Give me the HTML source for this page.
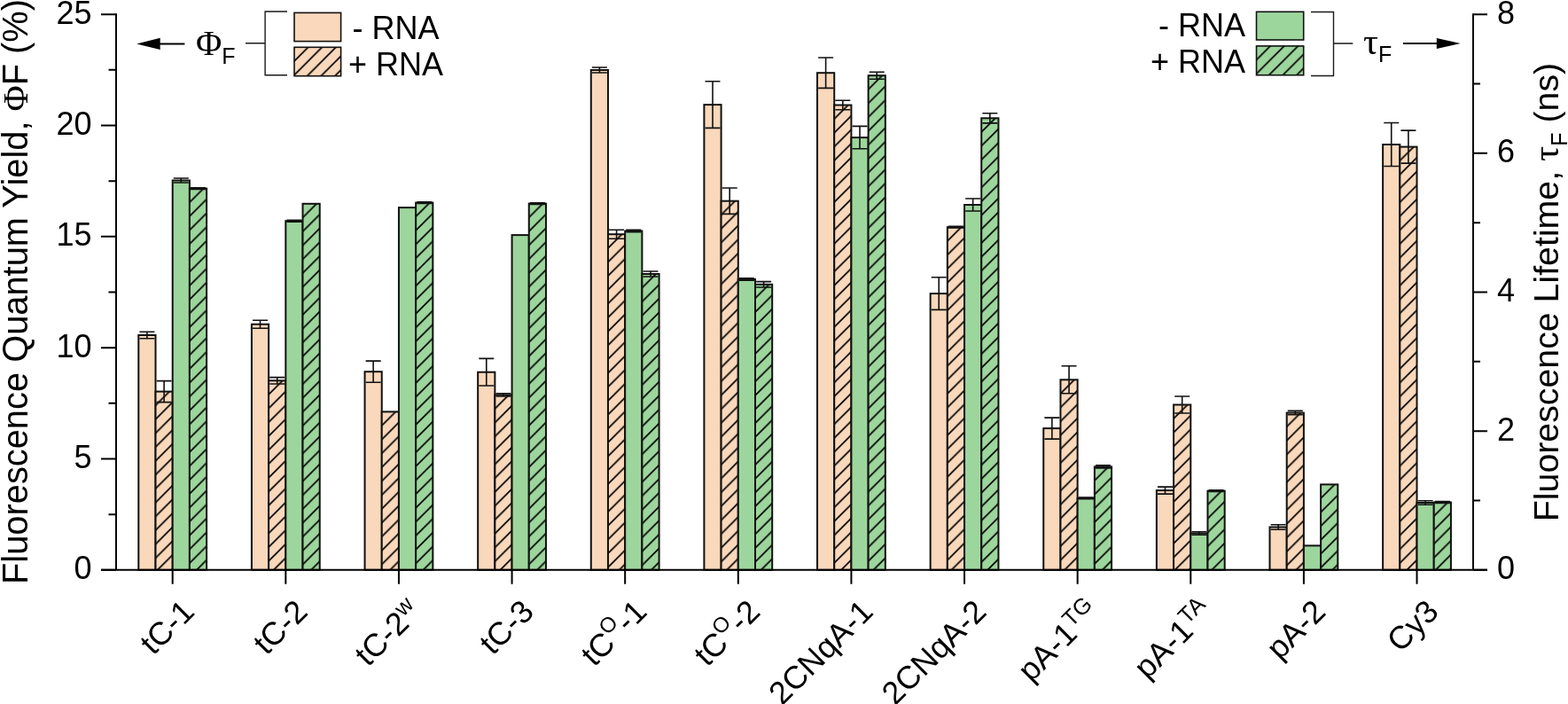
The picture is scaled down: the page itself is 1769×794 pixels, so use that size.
<!DOCTYPE html>
<html><head><meta charset="utf-8"><style>html,body{margin:0;padding:0;background:#fff;width:1769px;height:794px;overflow:hidden}svg{display:block}</style></head>
<body><svg width="1769" height="794" viewBox="0 0 1769 794">
<defs><pattern id="h1" patternUnits="userSpaceOnUse" x="175.50" y="441.60" width="15.65" height="15.65"><rect width="15.65" height="15.65" fill="#F9D8BB"/><path d="M0,15.65 L15.65,0 M-2,2 L2,-2 M13.65,17.65 L17.65,13.65" stroke="#000" stroke-width="1.7"/></pattern><pattern id="h2" patternUnits="userSpaceOnUse" x="213.90" y="212.60" width="15.65" height="15.65"><rect width="15.65" height="15.65" fill="#9DD69C"/><path d="M0,15.65 L15.65,0 M-2,2 L2,-2 M13.65,17.65 L17.65,13.65" stroke="#000" stroke-width="1.7"/></pattern><pattern id="h3" patternUnits="userSpaceOnUse" x="303.12" y="429.30" width="15.65" height="15.65"><rect width="15.65" height="15.65" fill="#F9D8BB"/><path d="M0,15.65 L15.65,0 M-2,2 L2,-2 M13.65,17.65 L17.65,13.65" stroke="#000" stroke-width="1.7"/></pattern><pattern id="h4" patternUnits="userSpaceOnUse" x="341.52" y="229.80" width="15.65" height="15.65"><rect width="15.65" height="15.65" fill="#9DD69C"/><path d="M0,15.65 L15.65,0 M-2,2 L2,-2 M13.65,17.65 L17.65,13.65" stroke="#000" stroke-width="1.7"/></pattern><pattern id="h5" patternUnits="userSpaceOnUse" x="430.74" y="464.40" width="15.65" height="15.65"><rect width="15.65" height="15.65" fill="#F9D8BB"/><path d="M0,15.65 L15.65,0 M-2,2 L2,-2 M13.65,17.65 L17.65,13.65" stroke="#000" stroke-width="1.7"/></pattern><pattern id="h6" patternUnits="userSpaceOnUse" x="469.14" y="228.60" width="15.65" height="15.65"><rect width="15.65" height="15.65" fill="#9DD69C"/><path d="M0,15.65 L15.65,0 M-2,2 L2,-2 M13.65,17.65 L17.65,13.65" stroke="#000" stroke-width="1.7"/></pattern><pattern id="h7" patternUnits="userSpaceOnUse" x="558.36" y="445.40" width="15.65" height="15.65"><rect width="15.65" height="15.65" fill="#F9D8BB"/><path d="M0,15.65 L15.65,0 M-2,2 L2,-2 M13.65,17.65 L17.65,13.65" stroke="#000" stroke-width="1.7"/></pattern><pattern id="h8" patternUnits="userSpaceOnUse" x="596.76" y="229.60" width="15.65" height="15.65"><rect width="15.65" height="15.65" fill="#9DD69C"/><path d="M0,15.65 L15.65,0 M-2,2 L2,-2 M13.65,17.65 L17.65,13.65" stroke="#000" stroke-width="1.7"/></pattern><pattern id="h9" patternUnits="userSpaceOnUse" x="685.98" y="264.20" width="15.65" height="15.65"><rect width="15.65" height="15.65" fill="#F9D8BB"/><path d="M0,15.65 L15.65,0 M-2,2 L2,-2 M13.65,17.65 L17.65,13.65" stroke="#000" stroke-width="1.7"/></pattern><pattern id="h10" patternUnits="userSpaceOnUse" x="724.38" y="309.00" width="15.65" height="15.65"><rect width="15.65" height="15.65" fill="#9DD69C"/><path d="M0,15.65 L15.65,0 M-2,2 L2,-2 M13.65,17.65 L17.65,13.65" stroke="#000" stroke-width="1.7"/></pattern><pattern id="h11" patternUnits="userSpaceOnUse" x="813.60" y="226.70" width="15.65" height="15.65"><rect width="15.65" height="15.65" fill="#F9D8BB"/><path d="M0,15.65 L15.65,0 M-2,2 L2,-2 M13.65,17.65 L17.65,13.65" stroke="#000" stroke-width="1.7"/></pattern><pattern id="h12" patternUnits="userSpaceOnUse" x="852.00" y="320.80" width="15.65" height="15.65"><rect width="15.65" height="15.65" fill="#9DD69C"/><path d="M0,15.65 L15.65,0 M-2,2 L2,-2 M13.65,17.65 L17.65,13.65" stroke="#000" stroke-width="1.7"/></pattern><pattern id="h13" patternUnits="userSpaceOnUse" x="941.22" y="118.50" width="15.65" height="15.65"><rect width="15.65" height="15.65" fill="#F9D8BB"/><path d="M0,15.65 L15.65,0 M-2,2 L2,-2 M13.65,17.65 L17.65,13.65" stroke="#000" stroke-width="1.7"/></pattern><pattern id="h14" patternUnits="userSpaceOnUse" x="979.62" y="85.20" width="15.65" height="15.65"><rect width="15.65" height="15.65" fill="#9DD69C"/><path d="M0,15.65 L15.65,0 M-2,2 L2,-2 M13.65,17.65 L17.65,13.65" stroke="#000" stroke-width="1.7"/></pattern><pattern id="h15" patternUnits="userSpaceOnUse" x="1068.84" y="256.20" width="15.65" height="15.65"><rect width="15.65" height="15.65" fill="#F9D8BB"/><path d="M0,15.65 L15.65,0 M-2,2 L2,-2 M13.65,17.65 L17.65,13.65" stroke="#000" stroke-width="1.7"/></pattern><pattern id="h16" patternUnits="userSpaceOnUse" x="1107.24" y="133.30" width="15.65" height="15.65"><rect width="15.65" height="15.65" fill="#9DD69C"/><path d="M0,15.65 L15.65,0 M-2,2 L2,-2 M13.65,17.65 L17.65,13.65" stroke="#000" stroke-width="1.7"/></pattern><pattern id="h17" patternUnits="userSpaceOnUse" x="1196.46" y="428.30" width="15.65" height="15.65"><rect width="15.65" height="15.65" fill="#F9D8BB"/><path d="M0,15.65 L15.65,0 M-2,2 L2,-2 M13.65,17.65 L17.65,13.65" stroke="#000" stroke-width="1.7"/></pattern><pattern id="h18" patternUnits="userSpaceOnUse" x="1234.86" y="526.40" width="15.65" height="15.65"><rect width="15.65" height="15.65" fill="#9DD69C"/><path d="M0,15.65 L15.65,0 M-2,2 L2,-2 M13.65,17.65 L17.65,13.65" stroke="#000" stroke-width="1.7"/></pattern><pattern id="h19" patternUnits="userSpaceOnUse" x="1324.08" y="456.50" width="15.65" height="15.65"><rect width="15.65" height="15.65" fill="#F9D8BB"/><path d="M0,15.65 L15.65,0 M-2,2 L2,-2 M13.65,17.65 L17.65,13.65" stroke="#000" stroke-width="1.7"/></pattern><pattern id="h20" patternUnits="userSpaceOnUse" x="1362.48" y="553.60" width="15.65" height="15.65"><rect width="15.65" height="15.65" fill="#9DD69C"/><path d="M0,15.65 L15.65,0 M-2,2 L2,-2 M13.65,17.65 L17.65,13.65" stroke="#000" stroke-width="1.7"/></pattern><pattern id="h21" patternUnits="userSpaceOnUse" x="1451.70" y="465.60" width="15.65" height="15.65"><rect width="15.65" height="15.65" fill="#F9D8BB"/><path d="M0,15.65 L15.65,0 M-2,2 L2,-2 M13.65,17.65 L17.65,13.65" stroke="#000" stroke-width="1.7"/></pattern><pattern id="h22" patternUnits="userSpaceOnUse" x="1490.10" y="546.40" width="15.65" height="15.65"><rect width="15.65" height="15.65" fill="#9DD69C"/><path d="M0,15.65 L15.65,0 M-2,2 L2,-2 M13.65,17.65 L17.65,13.65" stroke="#000" stroke-width="1.7"/></pattern><pattern id="h23" patternUnits="userSpaceOnUse" x="1579.32" y="165.60" width="15.65" height="15.65"><rect width="15.65" height="15.65" fill="#F9D8BB"/><path d="M0,15.65 L15.65,0 M-2,2 L2,-2 M13.65,17.65 L17.65,13.65" stroke="#000" stroke-width="1.7"/></pattern><pattern id="h24" patternUnits="userSpaceOnUse" x="1617.72" y="566.50" width="15.65" height="15.65"><rect width="15.65" height="15.65" fill="#9DD69C"/><path d="M0,15.65 L15.65,0 M-2,2 L2,-2 M13.65,17.65 L17.65,13.65" stroke="#000" stroke-width="1.7"/></pattern><pattern id="h25" patternUnits="userSpaceOnUse" x="332.00" y="53.30" width="15.65" height="15.65"><rect width="15.65" height="15.65" fill="#F9D8BB"/><path d="M0,15.65 L15.65,0 M-2,2 L2,-2 M13.65,17.65 L17.65,13.65" stroke="#000" stroke-width="1.7"/></pattern><pattern id="h26" patternUnits="userSpaceOnUse" x="1417.50" y="51.90" width="15.65" height="15.65"><rect width="15.65" height="15.65" fill="#9DD69C"/><path d="M0,15.65 L15.65,0 M-2,2 L2,-2 M13.65,17.65 L17.65,13.65" stroke="#000" stroke-width="1.7"/></pattern></defs>
<rect width="1769" height="794" fill="#fff"/>
<g><rect x="156.30" y="378.00" width="19.20" height="264.80" fill="#F9D8BB" stroke="#111" stroke-width="2"/><rect x="175.50" y="441.60" width="19.20" height="201.20" fill="url(#h1)" stroke="#111" stroke-width="2"/><rect x="194.70" y="203.50" width="19.20" height="439.30" fill="#9DD69C" stroke="#111" stroke-width="2"/><rect x="213.90" y="212.60" width="19.20" height="430.20" fill="url(#h2)" stroke="#111" stroke-width="2"/><rect x="283.92" y="365.70" width="19.20" height="277.10" fill="#F9D8BB" stroke="#111" stroke-width="2"/><rect x="303.12" y="429.30" width="19.20" height="213.50" fill="url(#h3)" stroke="#111" stroke-width="2"/><rect x="322.32" y="249.20" width="19.20" height="393.60" fill="#9DD69C" stroke="#111" stroke-width="2"/><rect x="341.52" y="229.80" width="19.20" height="413.00" fill="url(#h4)" stroke="#111" stroke-width="2"/><rect x="411.54" y="419.20" width="19.20" height="223.60" fill="#F9D8BB" stroke="#111" stroke-width="2"/><rect x="430.74" y="464.40" width="19.20" height="178.40" fill="url(#h5)" stroke="#111" stroke-width="2"/><rect x="449.94" y="234.10" width="19.20" height="408.70" fill="#9DD69C" stroke="#111" stroke-width="2"/><rect x="469.14" y="228.60" width="19.20" height="414.20" fill="url(#h6)" stroke="#111" stroke-width="2"/><rect x="539.16" y="419.70" width="19.20" height="223.10" fill="#F9D8BB" stroke="#111" stroke-width="2"/><rect x="558.36" y="445.40" width="19.20" height="197.40" fill="url(#h7)" stroke="#111" stroke-width="2"/><rect x="577.56" y="265.10" width="19.20" height="377.70" fill="#9DD69C" stroke="#111" stroke-width="2"/><rect x="596.76" y="229.60" width="19.20" height="413.20" fill="url(#h8)" stroke="#111" stroke-width="2"/><rect x="666.78" y="79.00" width="19.20" height="563.80" fill="#F9D8BB" stroke="#111" stroke-width="2"/><rect x="685.98" y="264.20" width="19.20" height="378.60" fill="url(#h9)" stroke="#111" stroke-width="2"/><rect x="705.18" y="260.50" width="19.20" height="382.30" fill="#9DD69C" stroke="#111" stroke-width="2"/><rect x="724.38" y="309.00" width="19.20" height="333.80" fill="url(#h10)" stroke="#111" stroke-width="2"/><rect x="794.40" y="118.10" width="19.20" height="524.70" fill="#F9D8BB" stroke="#111" stroke-width="2"/><rect x="813.60" y="226.70" width="19.20" height="416.10" fill="url(#h11)" stroke="#111" stroke-width="2"/><rect x="832.80" y="315.00" width="19.20" height="327.80" fill="#9DD69C" stroke="#111" stroke-width="2"/><rect x="852.00" y="320.80" width="19.20" height="322.00" fill="url(#h12)" stroke="#111" stroke-width="2"/><rect x="922.02" y="82.20" width="19.20" height="560.60" fill="#F9D8BB" stroke="#111" stroke-width="2"/><rect x="941.22" y="118.50" width="19.20" height="524.30" fill="url(#h13)" stroke="#111" stroke-width="2"/><rect x="960.42" y="155.10" width="19.20" height="487.70" fill="#9DD69C" stroke="#111" stroke-width="2"/><rect x="979.62" y="85.20" width="19.20" height="557.60" fill="url(#h14)" stroke="#111" stroke-width="2"/><rect x="1049.64" y="331.10" width="19.20" height="311.70" fill="#F9D8BB" stroke="#111" stroke-width="2"/><rect x="1068.84" y="256.20" width="19.20" height="386.60" fill="url(#h15)" stroke="#111" stroke-width="2"/><rect x="1088.04" y="231.00" width="19.20" height="411.80" fill="#9DD69C" stroke="#111" stroke-width="2"/><rect x="1107.24" y="133.30" width="19.20" height="509.50" fill="url(#h16)" stroke="#111" stroke-width="2"/><rect x="1177.26" y="483.10" width="19.20" height="159.70" fill="#F9D8BB" stroke="#111" stroke-width="2"/><rect x="1196.46" y="428.30" width="19.20" height="214.50" fill="url(#h17)" stroke="#111" stroke-width="2"/><rect x="1215.66" y="561.90" width="19.20" height="80.90" fill="#9DD69C" stroke="#111" stroke-width="2"/><rect x="1234.86" y="526.40" width="19.20" height="116.40" fill="url(#h18)" stroke="#111" stroke-width="2"/><rect x="1304.88" y="553.10" width="19.20" height="89.70" fill="#F9D8BB" stroke="#111" stroke-width="2"/><rect x="1324.08" y="456.50" width="19.20" height="186.30" fill="url(#h19)" stroke="#111" stroke-width="2"/><rect x="1343.28" y="601.50" width="19.20" height="41.30" fill="#9DD69C" stroke="#111" stroke-width="2"/><rect x="1362.48" y="553.60" width="19.20" height="89.20" fill="url(#h20)" stroke="#111" stroke-width="2"/><rect x="1432.50" y="594.50" width="19.20" height="48.30" fill="#F9D8BB" stroke="#111" stroke-width="2"/><rect x="1451.70" y="465.60" width="19.20" height="177.20" fill="url(#h21)" stroke="#111" stroke-width="2"/><rect x="1470.90" y="615.40" width="19.20" height="27.40" fill="#9DD69C" stroke="#111" stroke-width="2"/><rect x="1490.10" y="546.40" width="19.20" height="96.40" fill="url(#h22)" stroke="#111" stroke-width="2"/><rect x="1560.12" y="163.00" width="19.20" height="479.80" fill="#F9D8BB" stroke="#111" stroke-width="2"/><rect x="1579.32" y="165.60" width="19.20" height="477.20" fill="url(#h23)" stroke="#111" stroke-width="2"/><rect x="1598.52" y="567.00" width="19.20" height="75.80" fill="#9DD69C" stroke="#111" stroke-width="2"/><rect x="1617.72" y="566.50" width="19.20" height="76.30" fill="url(#h24)" stroke="#111" stroke-width="2"/></g>
<g stroke="#111" stroke-width="1.6" fill="none"><path d="M165.90,374.30 V381.70 M157.40,374.30 H174.40 M157.40,381.70 H174.40"/><path d="M185.10,429.60 V453.60 M176.60,429.60 H193.60 M176.60,453.60 H193.60"/><path d="M204.30,201.00 V206.00 M195.80,201.00 H212.80 M195.80,206.00 H212.80"/><path d="M223.50,211.80 V213.40 M215.00,211.80 H232.00 M215.00,213.40 H232.00"/><path d="M293.52,361.20 V370.20 M285.02,361.20 H302.02 M285.02,370.20 H302.02"/><path d="M312.72,425.60 V433.00 M304.22,425.60 H321.22 M304.22,433.00 H321.22"/><path d="M331.92,248.20 V250.20 M323.42,248.20 H340.42 M323.42,250.20 H340.42"/><path d="M421.14,407.10 V431.30 M412.64,407.10 H429.64 M412.64,431.30 H429.64"/><path d="M478.74,227.80 V229.40 M470.24,227.80 H487.24 M470.24,229.40 H487.24"/><path d="M548.76,404.40 V435.00 M540.26,404.40 H557.26 M540.26,435.00 H557.26"/><path d="M567.96,443.80 V447.00 M559.46,443.80 H576.46 M559.46,447.00 H576.46"/><path d="M606.36,228.80 V230.40 M597.86,228.80 H614.86 M597.86,230.40 H614.86"/><path d="M676.38,76.00 V82.00 M667.88,76.00 H684.88 M667.88,82.00 H684.88"/><path d="M695.58,259.20 V269.20 M687.08,259.20 H704.08 M687.08,269.20 H704.08"/><path d="M714.78,259.30 V261.70 M706.28,259.30 H723.28 M706.28,261.70 H723.28"/><path d="M733.98,306.00 V312.00 M725.48,306.00 H742.48 M725.48,312.00 H742.48"/><path d="M804.00,91.80 V144.40 M795.50,91.80 H812.50 M795.50,144.40 H812.50"/><path d="M823.20,212.00 V241.40 M814.70,212.00 H831.70 M814.70,241.40 H831.70"/><path d="M842.40,313.80 V316.20 M833.90,313.80 H850.90 M833.90,316.20 H850.90"/><path d="M861.60,317.60 V324.00 M853.10,317.60 H870.10 M853.10,324.00 H870.10"/><path d="M931.62,65.00 V99.40 M923.12,65.00 H940.12 M923.12,99.40 H940.12"/><path d="M950.82,113.20 V123.80 M942.32,113.20 H959.32 M942.32,123.80 H959.32"/><path d="M970.02,142.40 V167.80 M961.52,142.40 H978.52 M961.52,167.80 H978.52"/><path d="M989.22,81.20 V89.20 M980.72,81.20 H997.72 M980.72,89.20 H997.72"/><path d="M1059.24,312.80 V349.40 M1050.74,312.80 H1067.74 M1050.74,349.40 H1067.74"/><path d="M1078.44,255.40 V257.00 M1069.94,255.40 H1086.94 M1069.94,257.00 H1086.94"/><path d="M1097.64,224.00 V238.00 M1089.14,224.00 H1106.14 M1089.14,238.00 H1106.14"/><path d="M1116.84,127.70 V138.90 M1108.34,127.70 H1125.34 M1108.34,138.90 H1125.34"/><path d="M1186.86,471.10 V495.10 M1178.36,471.10 H1195.36 M1178.36,495.10 H1195.36"/><path d="M1206.06,412.80 V443.80 M1197.56,412.80 H1214.56 M1197.56,443.80 H1214.56"/><path d="M1225.26,561.10 V562.70 M1216.76,561.10 H1233.76 M1216.76,562.70 H1233.76"/><path d="M1244.46,524.90 V527.90 M1235.96,524.90 H1252.96 M1235.96,527.90 H1252.96"/><path d="M1314.48,549.10 V557.10 M1305.98,549.10 H1322.98 M1305.98,557.10 H1322.98"/><path d="M1333.68,447.00 V466.00 M1325.18,447.00 H1342.18 M1325.18,466.00 H1342.18"/><path d="M1352.88,599.70 V603.30 M1344.38,599.70 H1361.38 M1344.38,603.30 H1361.38"/><path d="M1372.08,552.80 V554.40 M1363.58,552.80 H1380.58 M1363.58,554.40 H1380.58"/><path d="M1442.10,591.70 V597.30 M1433.60,591.70 H1450.60 M1433.60,597.30 H1450.60"/><path d="M1461.30,463.40 V467.80 M1452.80,463.40 H1469.80 M1452.80,467.80 H1469.80"/><path d="M1569.72,138.50 V187.50 M1561.22,138.50 H1578.22 M1561.22,187.50 H1578.22"/><path d="M1588.92,147.10 V184.10 M1580.42,147.10 H1597.42 M1580.42,184.10 H1597.42"/><path d="M1608.12,564.80 V569.20 M1599.62,564.80 H1616.62 M1599.62,569.20 H1616.62"/><path d="M1627.32,565.50 V567.50 M1618.82,565.50 H1635.82 M1618.82,567.50 H1635.82"/></g>
<g stroke="#000" stroke-width="2" fill="none"><path d="M131.0,15.2 V642.8 M114.0,642.8 H1678.0 M1662.0,15.2 V642.8"/><path d="M114.0,642.80 H131.0 M114.0,517.48 H131.0 M114.0,392.16 H131.0 M114.0,266.84 H131.0 M114.0,141.52 H131.0 M114.0,16.20 H131.0 M122.5,580.14 H131.0 M122.5,454.82 H131.0 M122.5,329.50 H131.0 M122.5,204.18 H131.0 M122.5,78.86 H131.0 M1662.0,642.80 H1678.0 M1662.0,486.15 H1678.0 M1662.0,329.50 H1678.0 M1662.0,172.85 H1678.0 M1662.0,16.20 H1678.0 M1662.0,564.47 H1670.0 M1662.0,407.82 H1670.0 M1662.0,251.18 H1670.0 M1662.0,94.53 H1670.0 M194.70,642.8 V658.8 M322.32,642.8 V658.8 M449.94,642.8 V658.8 M577.56,642.8 V658.8 M705.18,642.8 V658.8 M832.80,642.8 V658.8 M960.42,642.8 V658.8 M1088.04,642.8 V658.8 M1215.66,642.8 V658.8 M1343.28,642.8 V658.8 M1470.90,642.8 V658.8 M1598.52,642.8 V658.8"/></g>
<g font-family="Liberation Sans" fill="#000"><text x="103.5" y="653.40" text-anchor="end" font-size="36">0</text><text x="103.5" y="528.08" text-anchor="end" font-size="36">5</text><text x="103.5" y="402.76" text-anchor="end" font-size="36">10</text><text x="103.5" y="277.44" text-anchor="end" font-size="36">15</text><text x="103.5" y="152.12" text-anchor="end" font-size="36">20</text><text x="103.5" y="26.80" text-anchor="end" font-size="36">25</text><text x="1689" y="653.40" font-size="36">0</text><text x="1689" y="496.75" font-size="36">2</text><text x="1689" y="340.10" font-size="36">4</text><text x="1689" y="183.45" font-size="36">6</text><text x="1689" y="26.80" font-size="36">8</text><text transform="translate(221.20,691.80) rotate(-45)" text-anchor="end" font-size="36">tC-1</text><text transform="translate(348.82,691.80) rotate(-45)" text-anchor="end" font-size="36">tC-2</text><text transform="translate(476.44,691.80) rotate(-45)" text-anchor="end" font-size="36">tC-2<tspan font-size="25.5" dy="-12">w</tspan></text><text transform="translate(604.06,691.80) rotate(-45)" text-anchor="end" font-size="36">tC-3</text><text transform="translate(731.68,691.80) rotate(-45)" text-anchor="end" font-size="36">tC<tspan font-size="24" dy="-15">O</tspan><tspan dy="15">-1</tspan></text><text transform="translate(859.30,691.80) rotate(-45)" text-anchor="end" font-size="36">tC<tspan font-size="24" dy="-15">O</tspan><tspan dy="15">-2</tspan></text><text transform="translate(986.92,691.80) rotate(-45)" text-anchor="end" font-size="36">2CNqA-1</text><text transform="translate(1114.54,691.80) rotate(-45)" text-anchor="end" font-size="36">2CNqA-2</text><text transform="translate(1242.16,691.80) rotate(-45)" text-anchor="end" font-size="36">pA-1<tspan font-size="25.5" dy="-12">TG</tspan></text><text transform="translate(1369.78,691.80) rotate(-45)" text-anchor="end" font-size="36">pA-1<tspan font-size="25.5" dy="-12">TA</tspan></text><text transform="translate(1497.40,691.80) rotate(-45)" text-anchor="end" font-size="36">pA-2</text><text transform="translate(1625.02,691.80) rotate(-45)" text-anchor="end" font-size="36">Cy3</text><text transform="translate(31.2,659) rotate(-90)" font-size="39.85">Fluorescence Quantum Yield, <tspan font-family="Liberation Serif">&#934;</tspan>F (%)</text><text transform="translate(1758,588.2) rotate(-90)" font-size="39.3">Fluorescence Lifetime, <tspan font-family="Liberation Serif" font-size="43">&#964;</tspan><tspan font-size="25" dy="10">F</tspan><tspan dy="-10"> (ns)</tspan></text></g>
<g stroke="#000" stroke-width="2" font-family="Liberation Sans"><rect x="332" y="14.4" width="52.6" height="32.2" fill="#F9D8BB" stroke="#111" stroke-width="1.6"/><rect x="332" y="53.3" width="52.6" height="32.4" fill="url(#h25)" stroke="#111" stroke-width="1.6"/><path d="M324,13 H299.1 V84.7 H324 M277,48.8 H299.1" stroke-width="1.4" stroke="#1a1a1a" fill="none"/><text stroke="none" x="397.5" y="43.5" font-size="36">- RNA</text><text stroke="none" x="393" y="84.5" font-size="36">+ RNA</text><text stroke="none" x="221" y="62.4" font-size="40" font-family="Liberation Serif">&#934;<tspan font-family="Liberation Sans" font-size="25" dy="10">F</tspan></text><path d="M208.4,49.4 H175"/><path d="M154.2,49.4 L180.7,42.8 L180.7,56 Z" fill="#000" stroke="none"/><rect x="1417.5" y="13.3" width="53.2" height="31.7" fill="#9DD69C" stroke="#111" stroke-width="1.6"/><rect x="1417.5" y="51.9" width="53.2" height="32.8" fill="url(#h26)" stroke="#111" stroke-width="1.6"/><path d="M1479,13.5 H1504.5 V85.5 H1479 M1504.5,49 H1526.3" stroke-width="1.4" stroke="#1a1a1a" fill="none"/><text stroke="none" x="1405" y="40.8" font-size="36" text-anchor="end">- RNA</text><text stroke="none" x="1405" y="82.3" font-size="36" text-anchor="end">+ RNA</text><text stroke="none" x="1538" y="60.5" font-size="42" font-family="Liberation Serif">&#964;<tspan font-family="Liberation Sans" font-size="25" dy="9.3">F</tspan></text><path d="M1583,49 H1625"/><path d="M1647.7,49 L1620.8,43 L1620.8,55 Z" fill="#000" stroke="none"/></g>
</svg></body></html>
